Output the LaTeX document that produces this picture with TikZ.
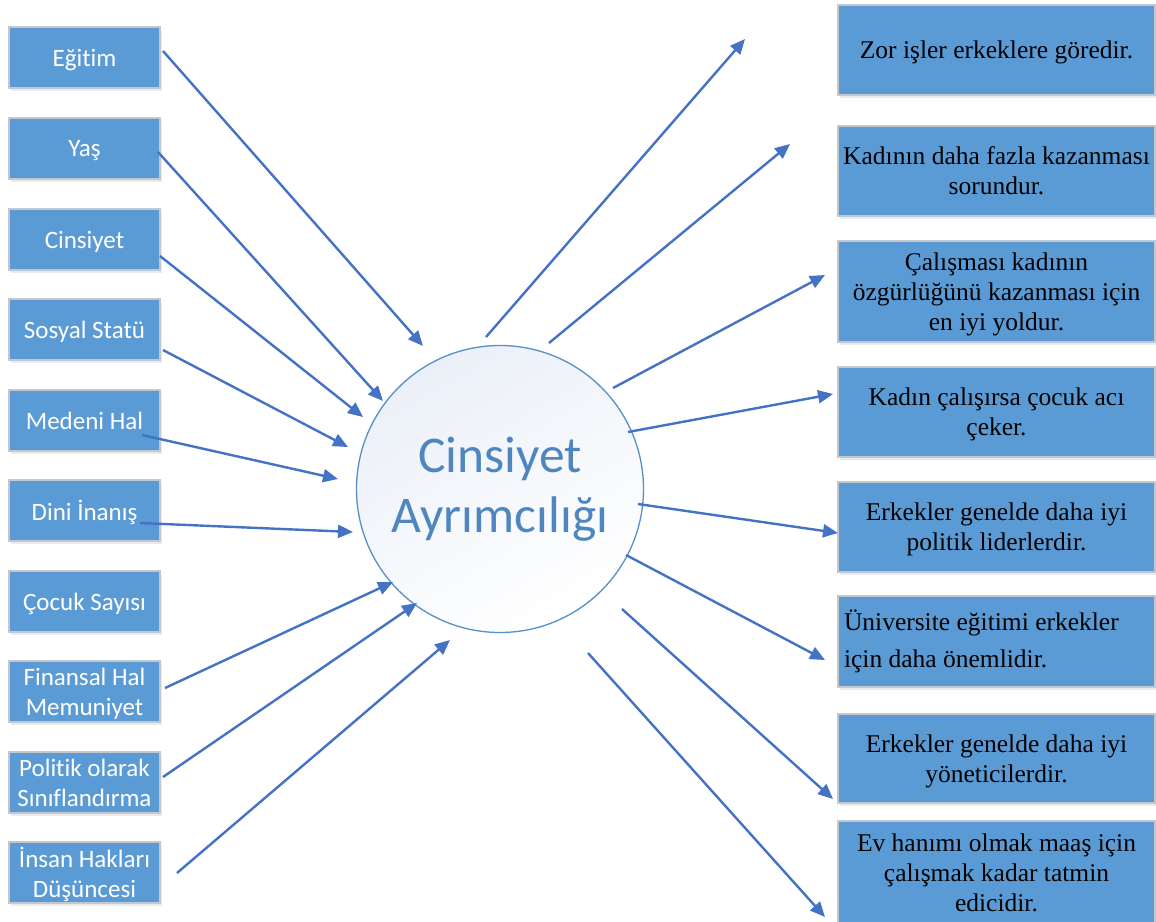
\documentclass[tikz,border=0pt]{standalone}
\usepackage{fontspec}
\setmainfont{Liberation Serif}
\newfontfamily\calfont[Ligatures={NoCommon}]{Carlito}
\usetikzlibrary{arrows.meta,shadows}
\definecolor{boxblue}{HTML}{5B9BD5}
\definecolor{boxedge}{HTML}{C4C8CC}
\definecolor{arrowblue}{HTML}{4472C4}
\definecolor{circedge}{HTML}{5590C8}
\definecolor{circtext}{HTML}{4F86C0}
\definecolor{circfill}{HTML}{EBF0F8}
\begin{document}
\begin{tikzpicture}[x=1pt,y=-1pt,
  boxbase/.style={draw=boxedge, line width=1.5pt, fill=boxblue, inner sep=0pt,
    drop shadow={shadow xshift=1.5pt, shadow yshift=-3pt, opacity=0.12, fill=boxblue!60!black}},
  leftbox/.style={boxbase, text depth=0pt, minimum width=151pt, minimum height=61pt, align=center,
    text=white, font=\calfont\fontsize{25}{30}\selectfont},
  rightbox/.style={boxbase, minimum width=317pt, minimum height=90pt, align=center,
    text=black, font=\fontsize{25.5}{30}\selectfont},
  rightboxc/.style={rightbox, text depth=0pt},
  arr/.style={draw=arrowblue, line width=2.4pt, -{Triangle[length=15pt,width=13pt]}}
]
\useasboundingbox (0,0) rectangle (1156,921);
\fill[white] (0,0) rectangle (1156,921);

% left boxes
\node[leftbox] (b1) at (84.5,57.5) {Eğitim};
\node[leftbox] (b2) at (84.5,148.5) {Yaş};
\node[leftbox] (b3) at (84.5,239.5) {Cinsiyet};
\node[leftbox] (b4) at (84.5,329.5) {Sosyal Statü};
\node[leftbox] (b5) at (84.5,420.5) {Medeni Hal};
\node[leftbox] (b6) at (84.5,510.5) {Dini İnanış};
\node[leftbox] (b7) at (84.5,601.5) {Çocuk Sayısı};
\node[leftbox] (b8) at (84.5,691.5) {Finansal Hal\\Memuniyet};
\node[leftbox] (b9) at (84.5,782.5) {Politik olarak\\Sınıflandırma};
\node[leftbox] (b10) at (84.5,872.5) {İnsan Hakları\\Düşüncesi};

% right boxes
\node[rightboxc] (r1) at (996.5,50) {Zor işler erkeklere göredir.};
\node[rightboxc] (r2) at (996.5,171) {Kadının daha fazla kazanması\\sorundur.};
\node[rightboxc, minimum height=101pt] (r3) at (996.5,291.5) {Çalışması kadının\\özgürlüğünü kazanması için\\en iyi yoldur.};
\node[rightboxc] (r4) at (996.5,412) {Kadın çalışırsa çocuk acı\\çeker.};
\node[rightboxc] (r5) at (996.5,527) {Erkekler genelde daha iyi\\politik liderlerdir.};
\node[rightbox, minimum height=91pt, text width=305pt, align=flush left,
  font=\fontsize{25.5}{37}\selectfont] (r6) at (996.5,641.5) {Üniversite eğitimi erkekler\\için daha önemlidir.};
\node[rightboxc, minimum height=89pt] (r7) at (996.5,758.5) {Erkekler genelde daha iyi\\yöneticilerdir.};
\node[rightboxc, minimum height=104pt] (r8) at (996.5,873) {Ev hanımı olmak maaş için\\çalışmak kadar tatmin\\edicidir.};

% central circle
\node[circle, draw=circedge, line width=1.3pt, minimum size=287pt, inner sep=0pt,
  shading=axis, top color=circfill, bottom color=white, shading angle=30,
  align=center, text=circtext, font=\calfont\fontsize{51.5}{60}\selectfont]
  (c) at (500,489) {Cinsiyet\\Ayrımcılığı};

% arrow end points
\coordinate (s1) at (163,51);  \coordinate (t1) at (423,346);
\coordinate (s2) at (158,152); \coordinate (t2) at (383,401);
\coordinate (s3) at (160,256); \coordinate (t3) at (363,417);
\coordinate (s4) at (163,350); \coordinate (t4) at (348,447);
\coordinate (s5) at (142,435); \coordinate (t5) at (338,479);
\coordinate (s6) at (140,523); \coordinate (t6) at (353,532);
\coordinate (s8) at (165,688); \coordinate (t8) at (393,582);
\coordinate (s9) at (163,777); \coordinate (t9) at (417,603);
\coordinate (s10) at (177,873); \coordinate (t10) at (450,640);

\coordinate (u1) at (486,337); \coordinate (v1) at (745,39);
\coordinate (u2) at (549,343); \coordinate (v2) at (790,144);
\coordinate (u3) at (613,388); \coordinate (v3) at (825,275);
\coordinate (u4) at (628,432); \coordinate (v4) at (833,394);
\coordinate (u5) at (638,504); \coordinate (v5) at (838,533);
\coordinate (u6) at (626,555); \coordinate (v6) at (825,660);
\coordinate (u7) at (622,609); \coordinate (v7) at (833,799);
\coordinate (u8) at (588,653); \coordinate (v8) at (825,917);

\foreach \i in {1,2,3,4,5,6,8,9,10} {\draw[arr] (s\i) -- (t\i);}
\foreach \i in {1,...,8} {\draw[arr] (u\i) -- (v\i);}
\end{tikzpicture}
\end{document}
